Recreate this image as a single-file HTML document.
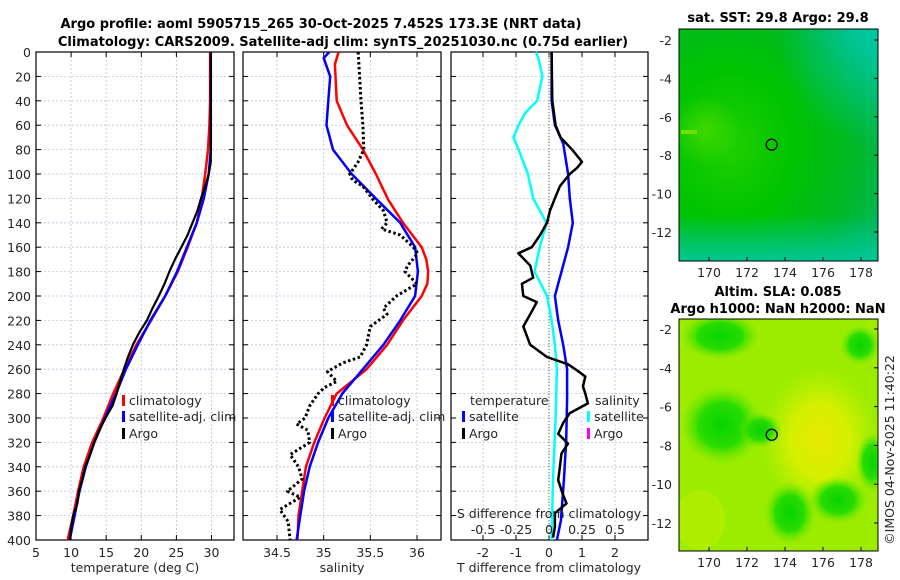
<!DOCTYPE html>
<html><head><meta charset="utf-8"><style>
body{margin:0;background:#fff;}
svg{display:block;font-family:"DejaVu Sans","Liberation Sans",sans-serif;}
.t{font-size:12.5px;fill:#262626;}
.b{font-weight:bold;font-size:13px;fill:#000;}
</style></head><body>
<svg id="c" width="900" height="580" viewBox="0 0 900 580">
<defs>
<radialGradient id="sst" cx="0.25" cy="0.5" r="0.8">
<stop offset="0" stop-color="#20d000"/><stop offset="0.4" stop-color="#00c400"/><stop offset="0.8" stop-color="#00b828"/><stop offset="1" stop-color="#00b850"/>
</radialGradient>
<radialGradient id="tealTR" cx="1" cy="0" r="0.5"><stop offset="0" stop-color="#00c8a8"/><stop offset="1" stop-color="#00c8a8" stop-opacity="0"/></radialGradient>
<linearGradient id="tealB" x1="0" y1="0" x2="0" y2="1"><stop offset="0.8" stop-color="#00c8a0" stop-opacity="0"/><stop offset="1" stop-color="#00c8a0" stop-opacity="0.9"/></linearGradient>
<radialGradient id="hl" cx="0.5" cy="0.5" r="0.5"><stop offset="0" stop-color="#50dc00" stop-opacity="0.7"/><stop offset="1" stop-color="#50dc00" stop-opacity="0"/></radialGradient>
<radialGradient id="sla1" cx="0.5" cy="0.5" r="0.5"><stop offset="0" stop-color="#e8ea00"/><stop offset="0.5" stop-color="#d4f000"/><stop offset="1" stop-color="#b8f000" stop-opacity="0"/></radialGradient>
<radialGradient id="slag" cx="0.5" cy="0.5" r="0.5"><stop offset="0" stop-color="#08d400"/><stop offset="0.55" stop-color="#28dc00"/><stop offset="1" stop-color="#70e800" stop-opacity="0"/></radialGradient>
</defs>
<g id="root"></g>
</svg>
<script>
// ---- data ----
const tDepth=[0,20,40,60,80,100,120,140,160,180,200,220,240,260,280,300,320,340,360,380,400];
const tClim=[29.8,29.8,29.8,29.7,29.5,29.1,28.6,27.9,26.6,25.2,23.4,21.4,19.3,17.6,16.0,14.6,13.0,11.8,11.0,10.3,9.5];
const tSat=[29.9,29.9,29.9,29.9,29.9,29.6,28.9,27.9,26.5,25.1,23.4,21.3,19.5,17.8,16.4,14.8,13.3,12.1,11.2,10.5,9.8];
const tArgoDepth=[0,20,40,60,80,90,100,110,120,130,140,150,160,170,180,190,200,210,220,230,240,250,260,270,280,290,300,310,320,330,340,350,360,370,380,390,400];
const tArgo=[29.9,29.9,29.9,29.9,29.9,29.9,29.6,29.1,28.5,28.0,27.3,26.6,25.7,24.8,24.0,23.3,22.5,21.6,20.8,19.7,18.8,18.1,17.5,17.0,16.5,15.9,14.9,14.0,13.3,12.7,12.0,11.6,11.1,10.9,10.3,10.0,9.8];
const sClimDepth=[0,10,40,60,80,100,121,140,160,170,180,190,200,220,240,260,280,300,320,340,360,380,400];
const sClim=[35.16,35.12,35.14,35.25,35.42,35.56,35.69,35.85,36.05,36.10,36.12,36.11,36.05,35.85,35.68,35.46,35.14,35.01,34.90,34.81,34.77,34.73,34.72];
const sSatDepth=[0,5,20,40,60,80,100,121,140,160,180,200,220,240,260,280,300,320,340,360,380,400];
const sSat=[35.06,35.00,35.07,35.05,35.03,35.10,35.30,35.57,35.82,35.98,36.01,35.98,35.82,35.64,35.42,35.20,35.05,34.94,34.85,34.79,34.75,34.71];
const sArgoDepth=[0,40,60,80,90,100,105,110,121,130,140,145,150,160,165,175,180,190,200,210,215,225,240,250,255,262,270,275,280,290,300,305,310,320,330,340,350,360,365,375,385,400];
const sArgo=[35.37,35.40,35.42,35.43,35.37,35.28,35.31,35.42,35.53,35.64,35.68,35.62,35.82,35.96,36.01,35.90,35.87,36.00,35.78,35.64,35.68,35.50,35.46,35.39,35.20,35.04,35.14,35.01,34.94,34.85,34.80,34.71,34.83,34.85,34.64,34.73,34.77,34.61,34.75,34.53,34.62,34.64];
const dSatTDepth=[0,40,60,75,100,120,140,160,180,200,220,240,260,285,318,351,384,400];
const dSatT=[0.08,0.08,0.18,0.43,0.58,0.63,0.72,0.58,0.38,0.18,0.28,0.43,0.55,0.55,0.52,0.45,0.36,0.24];
const dSatSDepth=[0,5,20,40,50,60,70,80,100,120,140,160,180,200,220,240,260,300,350,400];
const dSatS=[-0.10,-0.08,-0.05,-0.09,-0.18,-0.23,-0.27,-0.23,-0.16,-0.12,-0.02,-0.07,-0.11,-0.015,0.02,0.045,0.06,0.05,0.03,0.02];
const dArgoTDepth=[0,40,60,70,80,90,95,100,110,120,130,140,150,160,165,175,185,190,200,205,215,225,240,250,256,261,266,274,280,288,296,304,313,321,329,340,351,361,370,378,389,398];
const dArgoT=[0.08,0.1,0.2,0.35,0.7,1.0,0.85,0.63,0.33,0.18,0.03,-0.06,-0.27,-0.52,-0.93,-0.57,-0.48,-0.82,-0.78,-0.37,-0.57,-0.78,-0.57,-0.06,0.58,0.85,1.1,1.03,1.1,1.18,0.63,0.43,0.28,0.58,0.38,0.33,0.28,0.4,0.53,0.18,0.18,0.12];
const depthTicks=[0,20,40,60,80,100,120,140,160,180,200,220,240,260,280,300,320,340,360,380,400];
const tTicks=[5,10,15,20,25,30];
const sTicks=[34.5,35,35.5,36];
const dTTicks=[-2,-1,0,1,2];
const dSTickLabels=["-0.5","-0.25","0","0.25","0.5"];
const dSTicks=[-0.5,-0.25,0,0.25,0.5];
const lonTicks=[170,172,174,176,178];
const latTicks=[-2,-4,-6,-8,-10,-12];

// ---- helpers ----
const NS="http://www.w3.org/2000/svg";
const root=document.getElementById('root');
function mk(tag,attrs,parent){const e=document.createElementNS(NS,tag);for(const k in attrs)e.setAttribute(k,attrs[k]);(parent||root).appendChild(e);return e;}
function txt(x,y,s,cls,anchor,parent){const e=mk('text',{x:x,y:y,class:cls,'text-anchor':anchor||'middle'},parent);e.textContent=s;return e;}
const TOP=52,BOT=540;
const yD=d=>TOP+(BOT-TOP)*d/400;
function lin(d0,d1,p0,p1){return v=>p0+(v-d0)*(p1-p0)/(d1-d0);}

function panel(name,x0,x1,xs,ticks,labels,showY){
  const g=mk('g',{});
  
  
  depthTicks.forEach(d=>{mk('line',{x1:x0,x2:x1,y1:yD(d),y2:yD(d),stroke:'#b8c4e8','stroke-width':0.8,'stroke-dasharray':'2,2'},g);
    mk('line',{x1:x0,x2:x0+5,y1:yD(d),y2:yD(d),stroke:'#000'},g);mk('line',{x1:x1-5,x2:x1,y1:yD(d),y2:yD(d),stroke:'#000'},g);
    if(showY){const t=txt(31,yD(d)+5,String(d),'t','end',g);}});
  ticks.forEach((v,i)=>{const x=xs(v);mk('line',{x1:x,x2:x,y1:TOP,y2:BOT,stroke:'#b8c4e8','stroke-width':0.8,'stroke-dasharray':'2,2'},g);
    mk('line',{x1:x,x2:x,y1:BOT-5,y2:BOT,stroke:'#000'},g);mk('line',{x1:x,x2:x,y1:TOP,y2:TOP+5,stroke:'#000'},g);
    if(labels){const t=txt(x,557,labels[i],'t','middle',g);}});
  mk('rect',{x:x0,y:TOP,width:x1-x0,height:BOT-TOP,fill:'none',stroke:'#000','stroke-width':1.2},g);
  return g;
}
function line(name,depths,vals,xs,color,w,dash){
  const pts=depths.map((d,i)=>xs(vals[i]).toFixed(1)+','+yD(d).toFixed(1)).join(' ');
  const p=mk('polyline',{points:pts,fill:'none',stroke:color,'stroke-width':w,'stroke-linejoin':'round'});
  if(dash)p.setAttribute('stroke-dasharray',dash);
  
  
}
function legend(x,y,color,label,name){
  const g=mk('g',{});
  
  
  mk('rect',{x:x,y:y-10,width:3,height:11,fill:color},g);
  txt(x+7,y,label,'t','start',g);
}

// ---- titles ----
let e=txt(321,28,'Argo profile: aoml 5905715_265 30-Oct-2025 7.452S 173.3E (NRT data)','b');

e=txt(343,46,'Climatology: CARS2009. Satellite-adj clim: synTS_20251030.nc (0.75d earlier)','b');


// ---- panel 1 temperature ----
const xT=lin(5,30,36,211.5);
panel('temperature-panel',36,234,xT,tTicks,tTicks.map(String),true);
line('temperature-climatology-line',tDepth,tClim,xT,'#ff0000',2.5);
line('temperature-satellite-line',tDepth,tSat,xT,'#0000ff',2.5);
line('temperature-argo-line',tArgoDepth,tArgo,xT,'#000',2.2);
e=txt(135,572,'temperature (deg C)','t');
legend(122,405,'#ff0000','climatology','legend-entry-climatology');
legend(122,421,'#0000ff','satellite-adj. clim','legend-entry-satellite');
legend(122,438,'#000','Argo','legend-entry-argo');

// ---- panel 2 salinity ----
const xS=lin(34.5,36,277,417);
panel('salinity-panel',243,441,xS,sTicks,sTicks.map(String),false);
line('salinity-climatology-line',sClimDepth,sClim,xS,'#ff0000',2.5);
line('salinity-satellite-line',sSatDepth,sSat,xS,'#0000ff',2.5);
line('salinity-argo-line',sArgoDepth,sArgo,xS,'#000',3,'2.5,2.5');
e=txt(342,572,'salinity','t');
legend(331,405,'#ff0000','climatology','legend-entry-s-climatology');
legend(331,421,'#0000ff','satellite-adj. clim','legend-entry-s-satellite');
legend(331,438,'#000','Argo','legend-entry-s-argo');

// ---- panel 3 differences ----
const xDT=lin(0,1,549,582);
const xDS=lin(0,0.25,549,582);
panel('difference-panel',451,648,xDT,dTTicks,dTTicks.map(String),false);
mk('line',{x1:549,x2:549,y1:TOP,y2:BOT,stroke:'#556b2f','stroke-width':1,'stroke-dasharray':'1,2'});
line('salinity-diff-satellite-line',dSatSDepth,dSatS,xDS,'#00ffff',2.5);
line('temperature-diff-satellite-line',dSatTDepth,dSatT,xDT,'#0000ff',2.5);
line('temperature-diff-argo-line',dArgoTDepth,dArgoT,xDT,'#000',2.5);
e=txt(549,572,'T difference from climatology','t');
e=txt(549,518,'S difference from climatology','t');
dSTicks.forEach((v,i)=>{const t=txt(xDS(v),534,dSTickLabels[i],'t');});
e=txt(470,405,'temperature','t','start');
legend(462,421,'#0000ff','satellite','legend-entry-t-satellite');
legend(462,438,'#000','Argo','legend-entry-t-argo');
e=txt(595,405,'salinity','t','start');
legend(587,421,'#00ffff','satellite','legend-entry-s-sat');
legend(587,438,'#ff00ff','Argo','legend-entry-s-argo-diff');

// ---- maps ----
const lonX=lin(170,178,709,861);
function map(name,y0,y1,latY,title,fill){
  const g=mk('g',{});
  
  
  const cp=mk('clipPath',{id:'cp'+name},g);
  mk('rect',{x:679,y:y0,width:199,height:y1-y0},cp);
  const inner=mk('g',{'clip-path':'url(#cp'+name+')'},g);
  fill(inner);
  mk('rect',{x:679,y:y0,width:199,height:y1-y0,fill:'none',stroke:'#000','stroke-width':1},g);
  lonTicks.forEach(v=>{const x=lonX(v);mk('line',{x1:x,x2:x,y1:y1-4,y2:y1,stroke:'#000'},g);
    const t=txt(x,y1+16,String(v),'t','middle',g);});
  latTicks.forEach(v=>{const y=latY(v);mk('line',{x1:874,x2:878,y1:y,y2:y,stroke:'#000'},g);
    const t=txt(672,y+5,String(v),'t','end',g);});
  const c=mk('circle',{cx:lonX(173.3),cy:latY(-7.452),r:5.5,fill:'none',stroke:'#000','stroke-width':1.3},g);
  
  
  title.forEach(tt=>{const t=txt(778,tt[1],tt[0],'b','middle',g);});
}
map('sst-map',29,261,lin(-2,-12,40,232),[['sat. SST: 29.8 Argo: 29.8',22]],g=>{
  mk('rect',{x:679,y:29,width:199,height:232,fill:'url(#sst)'},g);
  mk('rect',{x:679,y:29,width:199,height:232,fill:'url(#tealTR)'},g);
  mk('rect',{x:679,y:29,width:199,height:232,fill:'url(#tealB)'},g);
  mk('ellipse',{cx:705,cy:130,rx:35,ry:35,fill:'url(#hl)'},g);
  mk('rect',{x:681,y:130,width:16,height:4,fill:'#70e000'},g);
});
map('sla-map',319,551,lin(-2,-12,329,523),[['Altim. SLA: 0.085',296],['Argo h1000: NaN h2000: NaN',313]],g=>{
  mk('rect',{x:679,y:319,width:199,height:232,fill:'#9cec00'},g);
  mk('ellipse',{cx:820,cy:440,rx:60,ry:75,fill:'url(#sla1)'},g);
  [[720,336,40,24],[722,425,42,40],[790,513,26,32],[838,500,30,24],[872,462,16,30],[760,430,22,18],[860,345,20,20]].forEach(b=>{
    mk('ellipse',{cx:b[0],cy:b[1],rx:b[2],ry:b[3],fill:'url(#slag)'},g);
  });
  mk('ellipse',{cx:700,cy:520,rx:25,ry:30,fill:'#c0f000',opacity:0.5},g);
});
e=txt(0,0,'©IMOS 04-Nov-2025 11:40:22','t','middle');
e.setAttribute('transform','translate(894,450) rotate(-90)');

</script>
</body></html>
